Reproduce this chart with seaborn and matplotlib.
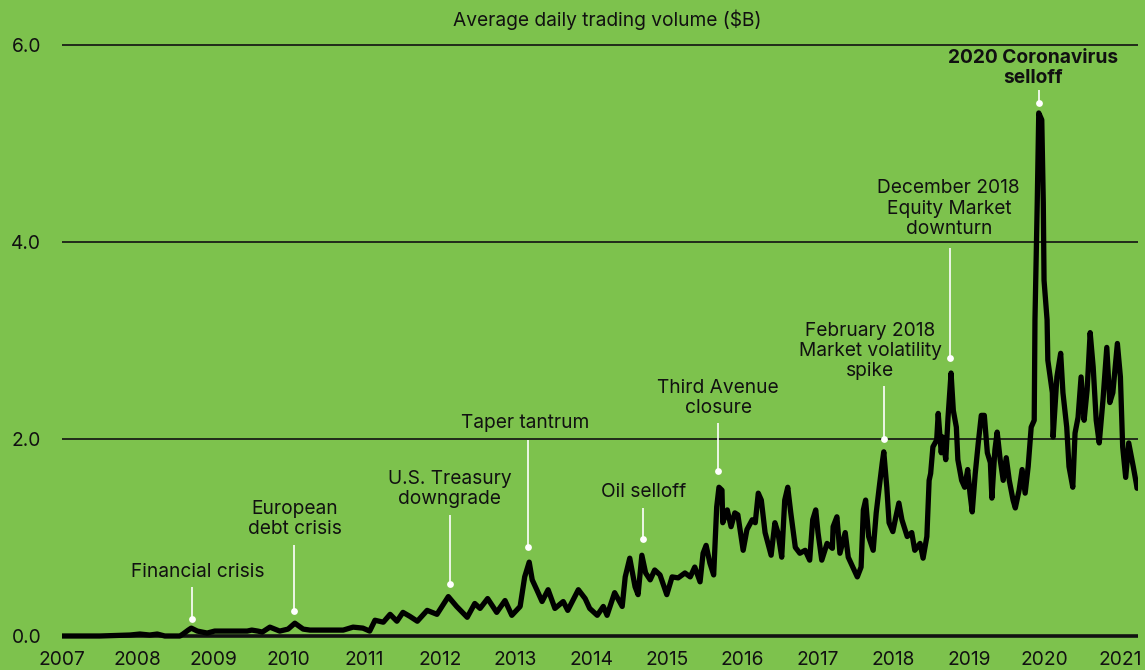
import matplotlib
matplotlib.use("Agg")
import matplotlib.pyplot as plt
import seaborn as sns
import pandas as pd

# ---------------- data ----------------
years = [
    2007.00, 2007.50, 2007.90, 2008.03, 2008.16, 2008.26, 2008.36, 2008.56, 2008.60, 2008.67,
    2008.71, 2008.79, 2008.92, 2009.02, 2009.22, 2009.45, 2009.51, 2009.59, 2009.65, 2009.75,
    2009.88, 2009.99, 2010.08, 2010.19, 2010.28, 2010.48, 2010.72, 2010.85, 2010.98, 2011.07,
    2011.14, 2011.25, 2011.34, 2011.43, 2011.51, 2011.60, 2011.70, 2011.83, 2011.96, 2012.11,
    2012.22, 2012.36, 2012.46, 2012.53, 2012.63, 2012.75, 2012.86, 2012.95, 2013.06, 2013.12,
    2013.18, 2013.22, 2013.28, 2013.35, 2013.43, 2013.52, 2013.63, 2013.69, 2013.83, 2013.92,
    2013.98, 2014.08, 2014.16, 2014.21, 2014.31, 2014.41, 2014.45, 2014.51, 2014.58, 2014.62,
    2014.67, 2014.72, 2014.78, 2014.84, 2014.91, 2015.00, 2015.07, 2015.15, 2015.24, 2015.31,
    2015.37, 2015.44, 2015.48, 2015.52, 2015.57, 2015.62, 2015.66, 2015.69, 2015.73, 2015.74,
    2015.80, 2015.85, 2015.90, 2015.94, 2016.01, 2016.06, 2016.13, 2016.17, 2016.21, 2016.25,
    2016.30, 2016.38, 2016.43, 2016.47, 2016.52, 2016.56, 2016.60, 2016.64, 2016.70, 2016.76,
    2016.83, 2016.89, 2016.93, 2016.97, 2017.00, 2017.05, 2017.12, 2017.19, 2017.20, 2017.25,
    2017.29, 2017.36, 2017.40, 2017.46, 2017.52, 2017.57, 2017.60, 2017.63, 2017.67, 2017.73,
    2017.77, 2017.81, 2017.85, 2017.87, 2017.91, 2017.94, 2017.99, 2018.03, 2018.07, 2018.11,
    2018.18, 2018.24, 2018.28, 2018.35, 2018.39, 2018.44, 2018.47, 2018.49, 2018.52, 2018.57,
    2018.59, 2018.63, 2018.65, 2018.69, 2018.72, 2018.76, 2018.79, 2018.83, 2018.85, 2018.90,
    2018.94, 2018.98, 2019.01, 2019.04, 2019.08, 2019.12, 2019.16, 2019.20, 2019.24, 2019.28,
    2019.30, 2019.34, 2019.37, 2019.41, 2019.45, 2019.49, 2019.53, 2019.58, 2019.61, 2019.66,
    2019.70, 2019.74, 2019.78, 2019.82, 2019.86, 2019.87, 2019.90, 2019.92, 2019.96, 2019.98,
    2019.99, 2020.03, 2020.04, 2020.10, 2020.11, 2020.16, 2020.21, 2020.24, 2020.29, 2020.32,
    2020.37, 2020.40, 2020.44, 2020.48, 2020.52, 2020.56, 2020.60, 2020.64, 2020.68, 2020.72,
    2020.77, 2020.82, 2020.86, 2020.90, 2020.96, 2021.00, 2021.03, 2021.07, 2021.11, 2021.17,
    2021.21, 2021.22,
]
volume = [
    0.00, 0.00, 0.01, 0.02, 0.01, 0.02, 0.00, 0.00, 0.02, 0.06,
    0.08, 0.05, 0.03, 0.05, 0.05, 0.05, 0.06, 0.05, 0.04, 0.09,
    0.05, 0.07, 0.13, 0.07, 0.06, 0.06, 0.06, 0.09, 0.08, 0.05,
    0.16, 0.14, 0.22, 0.15, 0.24, 0.20, 0.15, 0.26, 0.22, 0.40,
    0.30, 0.19, 0.33, 0.28, 0.38, 0.24, 0.36, 0.21, 0.30, 0.60,
    0.75, 0.57, 0.47, 0.35, 0.47, 0.28, 0.35, 0.26, 0.47, 0.38,
    0.28, 0.21, 0.30, 0.21, 0.44, 0.30, 0.60, 0.79, 0.50, 0.42,
    0.82, 0.64, 0.57, 0.67, 0.62, 0.42, 0.60, 0.59, 0.64, 0.60,
    0.70, 0.55, 0.84, 0.92, 0.74, 0.62, 1.31, 1.51, 1.48, 1.15,
    1.28, 1.11, 1.25, 1.23, 0.87, 1.08, 1.18, 1.15, 1.45, 1.38,
    1.05, 0.82, 1.15, 1.05, 0.80, 1.38, 1.51, 1.25, 0.90, 0.84,
    0.87, 0.77, 1.18, 1.28, 1.05, 0.77, 0.94, 0.89, 1.11, 1.21,
    0.84, 1.05, 0.80, 0.70, 0.60, 0.70, 1.28, 1.38, 1.01, 0.87,
    1.25, 1.51, 1.76, 1.87, 1.51, 1.15, 1.06, 1.21, 1.35, 1.18,
    1.01, 1.05, 0.87, 0.94, 0.79, 1.01, 1.58, 1.65, 1.92, 1.99,
    2.26, 1.86, 2.02, 1.79, 2.22, 2.67, 2.29, 2.12, 1.79, 1.58,
    1.51, 1.69, 1.45, 1.26, 1.65, 1.96, 2.24, 2.24, 1.86, 1.76,
    1.40, 1.89, 2.07, 1.79, 1.58, 1.81, 1.58, 1.38, 1.30, 1.48,
    1.69, 1.45, 1.72, 2.12, 2.19, 3.21, 4.40, 5.31, 5.24, 4.40,
    3.61, 3.21, 2.80, 2.47, 2.02, 2.63, 2.87, 2.47, 2.12, 1.72,
    1.51, 2.06, 2.22, 2.63, 2.19, 2.50, 3.08, 2.73, 2.19, 1.96,
    2.40, 2.93, 2.37, 2.47, 2.97, 2.63, 1.92, 1.61, 1.96, 1.72,
    1.55, 1.50,
]

x_ticks = list(range(2007, 2022))
x_tick_labels = [str(y) for y in x_ticks]
y_ticks = [0.0, 2.0, 4.0, 6.0]
y_tick_labels = ["0.0", "2.0", "4.0", "6.0"]

title = "Average daily trading volume ($B)"

event_labels = [
    "Financial crisis",
    "European\ndebt crisis",
    "U.S. Treasury\ndowngrade",
    "Taper tantrum",
    "Oil selloff",
    "Third Avenue\nclosure",
    "February 2018\nMarket volatility\nspike",
    "December 2018\nEquity Market\ndownturn",
    "2020 Coronavirus\nselloff",
]

# ---------------- layout of annotations (positions, not data) ----------------
# (dot_x, dot_y, line_top_y, text_x, text_y, bold)
event_layout = [
    (2008.72, 0.17, 0.50, 2008.79, 0.65, False),
    (2010.07, 0.25, 0.92, 2010.08, 1.19, False),
    (2012.13, 0.53, 1.23, 2012.13, 1.49, False),
    (2013.16, 0.90, 1.99, 2013.12, 2.16, False),
    (2014.69, 0.98, 1.30, 2014.70, 1.46, False),
    (2015.68, 1.68, 2.16, 2015.68, 2.42, False),
    (2017.87, 2.00, 2.54, 2017.69, 2.89, False),
    (2018.75, 2.82, 3.94, 2018.73, 4.34, False),
    (2019.92, 5.41, 5.54, 2019.85, 5.77, True),
]

BG = "#7DC24D"
INK = "#111111"

sns.set_theme(style="white")
plt.rcParams["font.family"] = ["Inter", "DejaVu Sans"]

fig = plt.figure(figsize=(11.45, 6.70), dpi=100, facecolor=BG)
# axes: x 2007 -> px 62, right px 1138 ; y 0 -> px 636, 6 -> px 45
ymin, ymax = -0.05, 6.05
ppu = 98.5
top_px = 45 - (ymax - 6.0) * ppu
bot_px = 636 - (ymin) * ppu
ax = fig.add_axes([62 / 1145, (670 - bot_px) / 670, (1138 - 62) / 1145, (bot_px - top_px) / 670])
ax.set_facecolor(BG)

df = pd.DataFrame({"year": years, "volume": volume})

# grid lines
for yv in y_ticks:
    ax.axhline(yv, color=INK, lw=2.6 if yv == 0 else 1.2, zorder=1, solid_capstyle="butt")

sns.lineplot(data=df, x="year", y="volume", ax=ax, color="black", linewidth=3.8,
             zorder=3, solid_joinstyle="round", solid_capstyle="round")

ax.set_xlim(2007.0, 2007.0 + (1138 - 62) / 75.6)
ax.set_ylim(ymin, ymax)
ax.set_xticks(x_ticks)
ax.set_xticklabels(x_tick_labels)
ax.set_yticks(y_ticks)
ax.set_yticklabels(y_tick_labels)
ax.tick_params(axis="both", length=0, labelsize=13.8, colors=INK)
ax.tick_params(axis="x", pad=7)
ax.tick_params(axis="y", pad=15)
ax.set_xlabel("")
ax.set_ylabel("")
for s in ax.spines.values():
    s.set_visible(False)
ax.grid(False)

# annotations
for label, (dx, dy, ltop, tx, ty, bold) in zip(event_labels, event_layout):
    ax.plot([dx, dx], [dy, ltop], color="white", lw=1.2, zorder=4, solid_capstyle="butt")
    ax.scatter([dx], [dy], s=24, color="white", zorder=5, linewidths=0)
    ax.text(tx, ty, label, ha="center", va="center", fontsize=13.8, color=INK,
            linespacing=1.15, fontweight="bold" if bold else "normal", zorder=6)

fig.text(607 / 1145, 1 - 20 / 670, title, ha="center", va="center", fontsize=13.8, color=INK)

fig.savefig("out.png", dpi=100, facecolor=BG)
